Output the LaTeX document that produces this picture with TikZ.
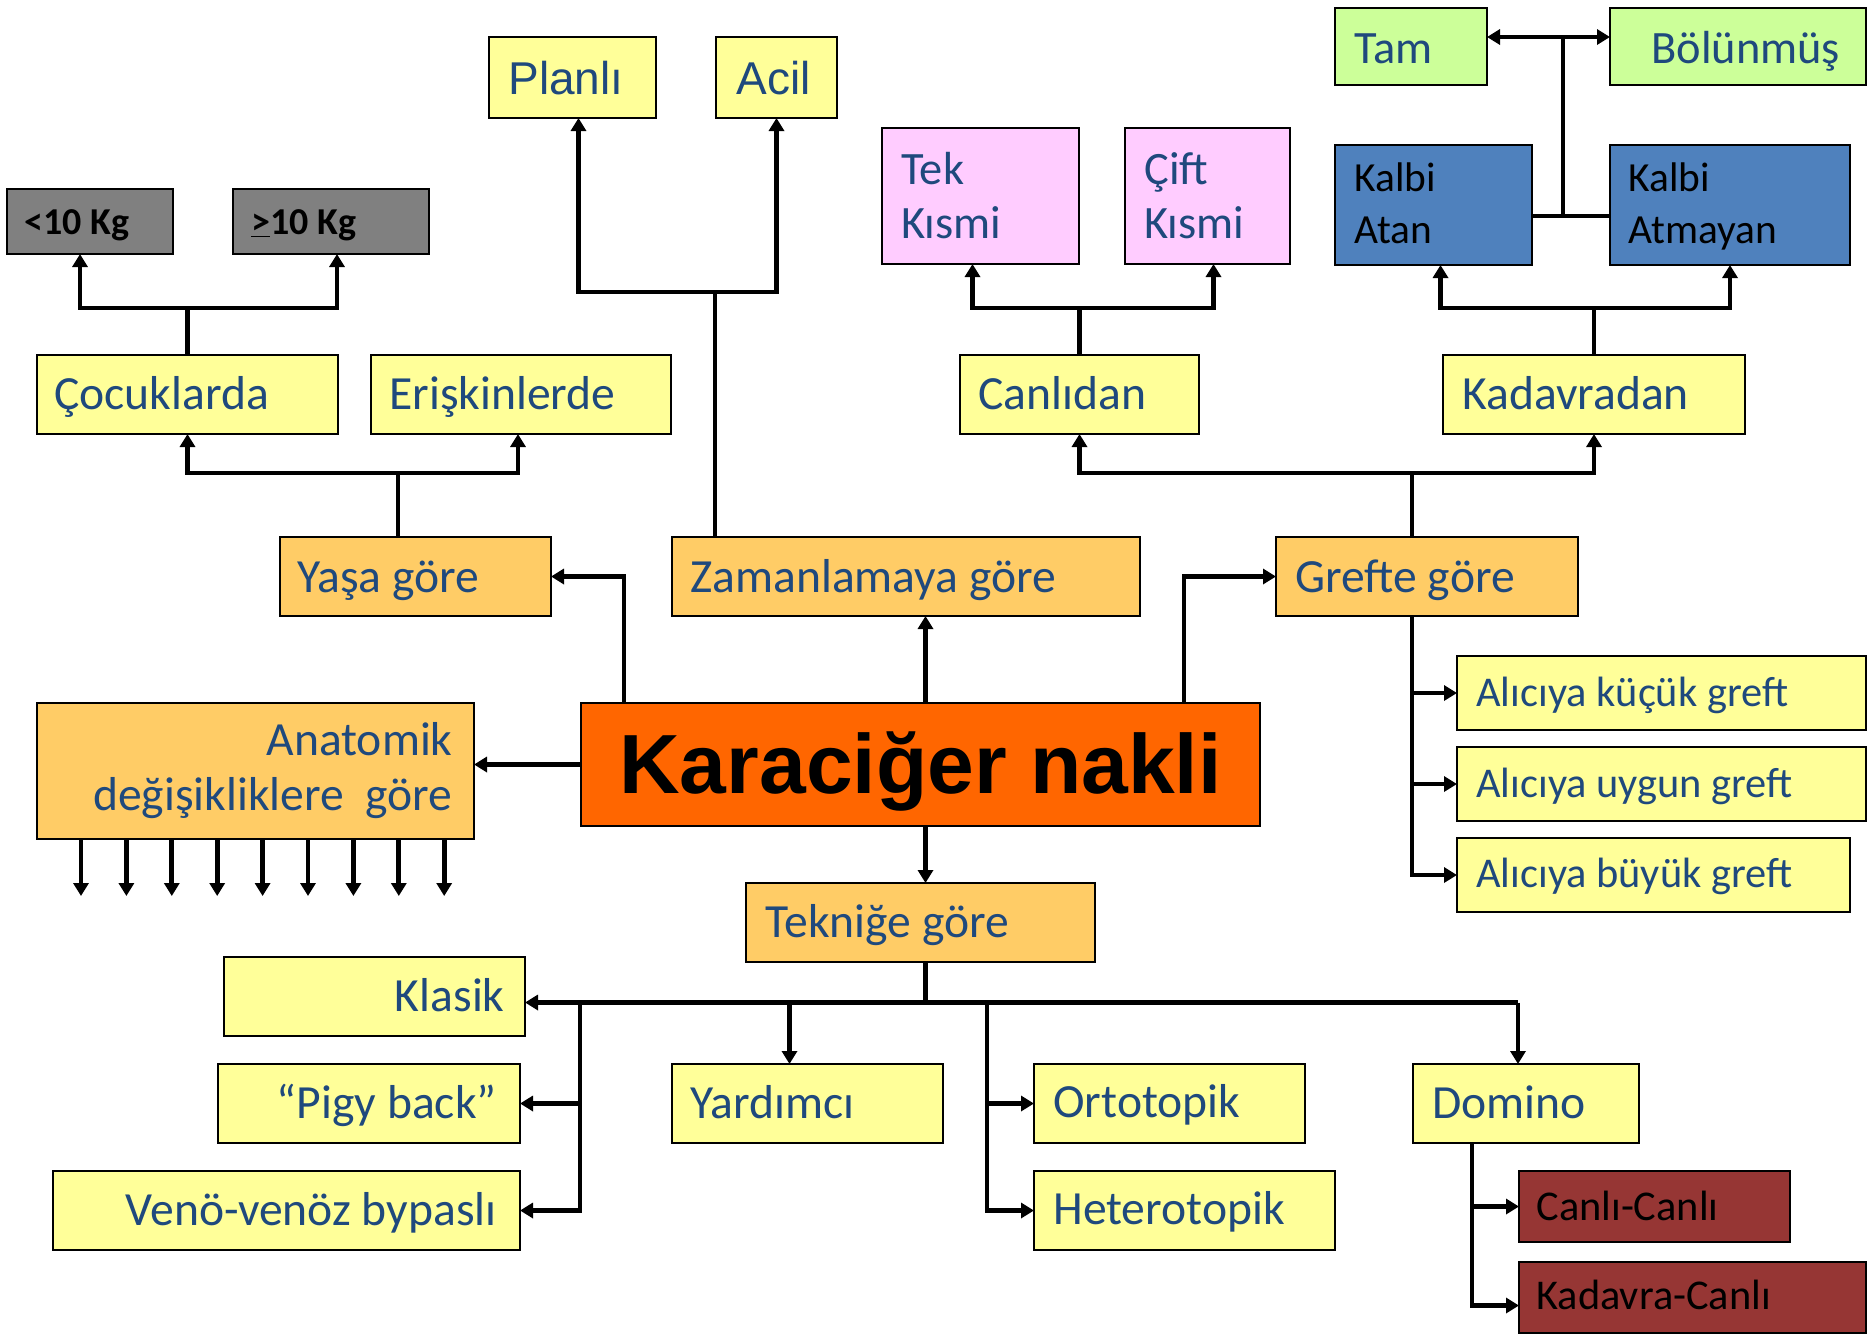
\documentclass[tikz,border=0pt]{standalone}
\usepackage{fontspec}
\setmainfont{Carlito}
\newfontfamily\arialf{Liberation Sans}
\usetikzlibrary{arrows.meta,calc}

\definecolor{lyellow}{HTML}{FFFF99}
\definecolor{lorange}{HTML}{FFCC66}
\definecolor{mainor}{HTML}{FF6600}
\definecolor{lpink}{HTML}{FFCCFF}
\definecolor{lgreen}{HTML}{CCFF99}
\definecolor{mblue}{HTML}{4F81BD}
\definecolor{dred}{HTML}{963634}
\definecolor{mgray}{HTML}{808080}
\definecolor{tblue}{HTML}{1F497D}

% box given by left, top, right, bottom (picture units, y downwards)
\newcommand\mkbox[6]{%
  \pgfmathsetmacro\bw{(#5-#3)/2}%
  \pgfmathsetmacro\bh{(#6-#4)/2}%
  \node[box,#2,minimum width=\bw pt,minimum height=\bh pt] (#1) at ({(#3+#5)/2},{(#4+#6)/2}) {};}

\tikzset{
  box/.style={draw=black, line width=1.2pt, inner sep=0pt, outer sep=0pt},
  yel/.style={fill=lyellow},
  ora/.style={fill=lorange},
  conn/.style={line width=2.4pt, -{Triangle[width=7.5pt,length=6.5pt]}},
  link/.style={line width=2.4pt},
  lbl/.style={anchor=base west, inner sep=0pt, text=tblue},
  rlbl/.style={anchor=base east, inner sep=0pt, text=tblue},
  fa/.style={font=\fontsize{23.8}{28}\selectfont},
  fb/.style={font=\fontsize{21.2}{25}\selectfont},
  fc/.style={font=\fontsize{23.2}{27}\selectfont},
  fd/.style={font=\fontsize{20.7}{25}\selectfont},
  fkg/.style={font=\bfseries\fontsize{19}{23}\selectfont},
  far/.style={font=\arialf\fontsize{23}{27}\selectfont},
}

\begin{document}
\begin{tikzpicture}[x=0.5pt,y=-0.5pt]
\useasboundingbox (0,0) rectangle (1874,1341);

% ---------- boxes ----------
\mkbox{k1}{fill=mgray}{7}{189}{173}{254}
\mkbox{k2}{fill=mgray}{233}{189}{429}{254}
\mkbox{cocuk}{yel}{37}{355}{338}{434}
\mkbox{erisk}{yel}{371}{355}{671}{434}
\mkbox{planli}{yel}{489}{37}{656}{118}
\mkbox{acil}{yel}{716}{37}{837}{118}
\mkbox{tek}{fill=lpink}{882}{128}{1079}{264}
\mkbox{cift}{fill=lpink}{1125}{128}{1290}{264}
\mkbox{tam}{fill=lgreen}{1335}{8}{1487}{85}
\mkbox{bolun}{fill=lgreen}{1610}{8}{1866}{85}
\mkbox{katan}{fill=mblue}{1335}{145}{1532}{265}
\mkbox{katmayan}{fill=mblue}{1610}{145}{1850}{265}
\mkbox{canli}{yel}{960}{355}{1199}{434}
\mkbox{kadav}{yel}{1443}{355}{1745}{434}
\mkbox{yasa}{ora}{280}{537}{551}{616}
\mkbox{zaman}{ora}{672}{537}{1140}{616}
\mkbox{grefte}{ora}{1276}{537}{1578}{616}
\mkbox{main}{fill=mainor}{581}{703}{1260}{826}
\mkbox{anat}{ora}{37}{703}{474}{839}
\mkbox{ak}{yel}{1457}{656}{1866}{730}
\mkbox{au}{yel}{1457}{747}{1866}{821}
\mkbox{ab}{yel}{1457}{838}{1850}{912}
\mkbox{teknik}{ora}{746}{883}{1095}{962}
\mkbox{klasik}{yel}{224}{957}{525}{1036}
\mkbox{pigy}{yel}{218}{1064}{520}{1143}
\mkbox{veno}{yel}{53}{1171}{520}{1250}
\mkbox{yard}{yel}{672}{1064}{943}{1143}
\mkbox{orto}{yel}{1034}{1064}{1305}{1143}
\mkbox{hetero}{yel}{1034}{1171}{1335}{1250}
\mkbox{domino}{yel}{1413}{1064}{1639}{1143}
\mkbox{cc}{fill=dred}{1519}{1171}{1790}{1242}
\mkbox{kc}{fill=dred}{1519}{1262}{1866}{1333}

% ---------- texts ----------
\node[anchor=base, inner sep=0pt, font={\arialf\bfseries\fontsize{42}{50}\selectfont}] (main-t) at ($(main.north)+(0,90)$) {Karaciğer nakli};

\node[lbl,fkg,text=black] (k1-t) at ($(k1.north west)+(17,45)$) {<10 Kg};
\node[lbl,fkg,text=black] (k2-t) at ($(k2.north west)+(18,45)$) {\underline{>}10 Kg};
\node[lbl,fa] (cocuk-t) at ($(cocuk.north west)+(17,54)$) {Çocuklarda};
\node[lbl,fa] (erisk-t) at ($(erisk.north west)+(18,54)$) {Erişkinlerde};
\node[lbl,far] (planli-t) at ($(planli.north west)+(19,57)$) {Planlı};
\node[lbl,far] (acil-t) at ($(acil.north west)+(20,57)$) {Acil};
\node[lbl,fc] (tek-t1) at ($(tek.north west)+(19,56)$) {Tek};
\node[lbl,fc] (tek-t2) at ($(tek.north west)+(19,110)$) {Kısmi};
\node[lbl,fc] (cift-t1) at ($(cift.north west)+(19,56)$) {Çift};
\node[lbl,fc] (cift-t2) at ($(cift.north west)+(19,110)$) {Kısmi};
\node[lbl,fc] (tam-t) at ($(tam.north west)+(19,55)$) {Tam};
\node[lbl,fc] (bolun-t) at ($(bolun.north west)+(41,55)$) {Bölünmüş};
\node[lbl,fd,text=black] (katan-t1) at ($(katan.north west)+(19,46)$) {Kalbi};
\node[lbl,fd,text=black] (katan-t2) at ($(katan.north west)+(19,98)$) {Atan};
\node[lbl,fd,text=black] (katmayan-t1) at ($(katmayan.north west)+(18,46)$) {Kalbi};
\node[lbl,fd,text=black] (katmayan-t2) at ($(katmayan.north west)+(18,98)$) {Atmayan};
\node[lbl,fa] (canli-t) at ($(canli.north west)+(18,54)$) {Canlıdan};
\node[lbl,fa] (kadav-t) at ($(kadav.north west)+(19,54)$) {Kadavradan};
\node[lbl,fa] (yasa-t) at ($(yasa.north west)+(17,55)$) {Yaşa göre};
\node[lbl,fa] (zaman-t) at ($(zaman.north west)+(18,55)$) {Zamanlamaya göre};
\node[lbl,fa] (grefte-t) at ($(grefte.north west)+(19,55)$) {Grefte göre};
\node[rlbl,fa] (anat-t1) at ($(anat.north east)+(-21,52)$) {Anatomik};
\node[rlbl,fa] (anat-t2) at ($(anat.north east)+(-21,107)$) {değişikliklere\ \ göre};
\node[lbl,fb] (ak-t) at ($(ak.north west)+(19,50)$) {Alıcıya küçük greft};
\node[lbl,fb] (au-t) at ($(au.north west)+(19,50)$) {Alıcıya uygun greft};
\node[lbl,fb] (ab-t) at ($(ab.north west)+(19,49)$) {Alıcıya büyük greft};
\node[lbl,fa] (teknik-t) at ($(teknik.north west)+(19,54)$) {Tekniğe göre};
\node[rlbl,fa] (klasik-t) at ($(klasik.north east)+(-20,54)$) {Klasik};
\node[rlbl,fa] (pigy-t) at ($(pigy.north east)+(-23,54)$) {“Pigy back”};
\node[rlbl,fa] (veno-t) at ($(veno.north east)+(-23,54)$) {Venö-venöz bypaslı};
\node[lbl,fa] (yard-t) at ($(yard.north west)+(18,54)$) {Yardımcı};
\node[lbl,fa] (orto-t) at ($(orto.north west)+(19,53)$) {Ortotopik};
\node[lbl,fa] (hetero-t) at ($(hetero.north west)+(19,53)$) {Heterotopik};
\node[lbl,fa] (domino-t) at ($(domino.north west)+(19,54)$) {Domino};
\node[lbl,fb,text=black] (cc-t) at ($(cc.north west)+(17,49)$) {Canlı-Canlı};
\node[lbl,fb,text=black] (kc-t) at ($(kc.north west)+(17,47)$) {Kadavra-Canlı};

% ---------- connectors from the centre box ----------
\draw[conn] ($(main.north west)+(43,0)$) |- (yasa.east);
\draw[conn] ($(main.north west)+(603,0)$) |- (grefte.west);
\coordinate (mz) at ($(main.north)+(5,0)$);
\draw[conn] (mz) -- (mz |- zaman.south);
\draw[conn] (main.west) -- (main.west -| anat.east);
\coordinate (ms) at ($(main.south)+(5,0)$);
\draw[conn] (ms) -- (ms |- teknik.north);

% anatomical variants (open ends)
\foreach \i in {0,...,8}
  \draw[conn] ($(anat.south west)+({44+45.4*\i},0)$) coordinate (av\i) -- ++(0,57) coordinate (ae\i);

% age branch
\coordinate (yj) at ($(yasa.north west)+(118,-64)$);
\draw[link] (yj |- yasa.north) -- (yj);
\draw[conn] (yj) -| (cocuk.south);
\draw[conn] (yj) -| ($(erisk.south)+(-3,0)$);
\coordinate (cj) at ($(cocuk.north)+(0,-47)$);
\draw[link] (cocuk.north) -- (cj);
\draw[conn] (cj) -| ($(k1.south)+(-10,0)$);
\draw[conn] (cj) -| ($(k2.south)+(6,0)$);

% timing branch
\coordinate (zj) at ($(zaman.north west)+(43,-245)$);
\draw[link] (zj |- zaman.north) -- (zj);
\draw[conn] (zj) -| ($(planli.south)+(6,0)$);
\draw[conn] (zj) -| (acil.south);

% graft branch (upwards)
\coordinate (gj) at ($(grefte.north west)+(136,-64)$);
\draw[link] (gj |- grefte.north) -- (gj);
\draw[conn] (gj) -| (canli.south);
\draw[conn] (gj) -| (kadav.south);
\coordinate (cnj) at ($(canli.north)+(0,-47)$);
\draw[link] (canli.north) -- (cnj);
\draw[conn] (cnj) -| ($(tek.south)+(-8,0)$);
\draw[conn] (cnj) -| ($(cift.south)+(6,0)$);
\coordinate (kdj) at ($(kadav.north)+(0,-47)$);
\draw[link] (kadav.north) -- (kdj);
\draw[conn] (kdj) -| ($(katan.south)+(7,0)$);
\draw[conn] (kdj) -| (katmayan.south);
\coordinate (kj) at ($(katan.south east)+(31,-49)$);
\draw[link] (katan.east |- kj) -- (katmayan.west |- kj);
\coordinate (tj) at ($(tam.north east)+(76,29)$);
\draw[link] (kj) -- (tj);
\draw[conn] (tj) -- (tam.east |- tj);
\draw[conn] (tj) -- (bolun.west |- tj);

% graft branch (size)
\coordinate (gs) at ($(grefte.south west)+(136,0)$);
\draw[conn] (gs) |- (ak.west);
\draw[conn] (gs) |- (au.west);
\draw[conn] (gs) |- (ab.west);

% technique branch
\coordinate (tk) at ($(teknik.south)+(5,41)$);
\draw[link] (tk |- teknik.south) -- (tk);
\coordinate (tL) at ($(klasik.east)+(55,6)$);
\coordinate (dx) at ($(domino.north)+(-8,0)$);
\draw[link] (tL) -- (dx |- tL);
\draw[conn] (tL) -- (klasik.east |- tL);
\draw[conn] (tL) |- (pigy.east);
\draw[conn] (tL) |- (veno.east);
\coordinate (yx) at ($(yard.north)+(-18,0)$);
\draw[conn] (yx |- tL) -- (yx);
\coordinate (ox) at ($(orto.north west)+(-47,0)$);
\draw[conn] (ox |- tL) |- (orto.west);
\draw[conn] (ox |- tL) |- (hetero.west);
\draw[conn] (dx |- tL) -- (dx);
\coordinate (ds) at ($(domino.south west)+(59,0)$);
\draw[conn] (ds) |- (cc.west);
\draw[conn] (ds) |- ($(kc.west)+(0,8)$);
\end{tikzpicture}
\end{document}
